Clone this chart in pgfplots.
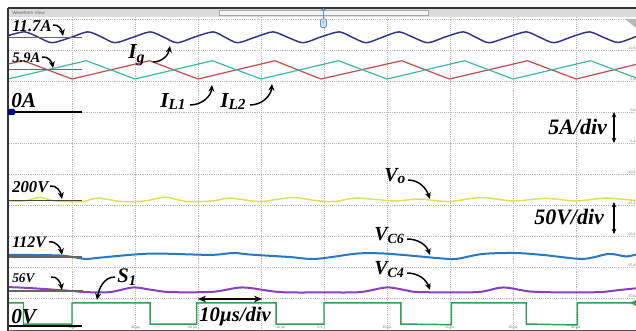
\documentclass[border=0pt]{standalone}
\usepackage{pgfplots}
\pgfplotsset{compat=1.18}
\usepackage{fontspec}
\setmainfont{Liberation Serif}
\newfontfamily\sansf{Liberation Sans}
\usetikzlibrary{arrows.meta}
\definecolor{cIg}{RGB}{50,50,140}
\definecolor{cIL1}{RGB}{195,75,75}
\definecolor{cIL2}{RGB}{60,185,160}
\definecolor{cVo}{RGB}{222,222,90}
\definecolor{cVC6}{RGB}{40,120,195}
\definecolor{cVC4}{RGB}{135,65,190}
\definecolor{cS}{RGB}{45,160,85}
\definecolor{trig}{RGB}{90,150,210}
\newcommand{\ann}[1]{\fontsize{#1}{#1}\selectfont\bfseries\itshape}
\begin{document}
\begin{tikzpicture}
\begin{axis}[at={(6.75pt,-12.75pt)}, anchor=north west, scale only axis,
  width=470.25pt, height=234pt,
  xmin=-50, xmax=49.52, ymin=-7, ymax=3.06,
  axis line style={draw=none},
  xtick={-40,-30,...,40}, ytick={-6,-5,...,3},
  xticklabels={}, yticklabels={}, major tick length=0pt,
  grid=major, grid style={densely dotted, gray!55, line width=0.4pt},
  clip=true]
% Ig
\addplot[cIg, line width=1.1pt, smooth, tension=0.45] coordinates {
(-50,2.47) (-47.5,2.58) (-45.35,2.41) (-43.2,2.23) (-40.35,2.39) (-37.5,2.58) (-35.35,2.42) (-33.2,2.23)
(-30.4,2.40) (-27.6,2.58) (-25.45,2.41) (-23.3,2.23) (-20.45,2.42) (-17.6,2.58) (-15.65,2.40) (-13.7,2.23)
(-10.9,2.41) (-8.1,2.58) (-5.7,2.40) (-3.3,2.23) (-0.45,2.42) (2.4,2.58) (4.55,2.40) (6.7,2.23)
(9.3,2.41) (11.9,2.58) (14.2,2.40) (16.5,2.23) (19.3,2.42) (22.1,2.58) (24.15,2.40) (26.2,2.23)
(29.15,2.41) (32.1,2.58) (34.3,2.40) (36.5,2.23) (39.3,2.42) (42.1,2.58) (44.4,2.40) (46.7,2.24) (49.5,2.43)};
% IL1
\addplot[cIL1, line width=0.9pt] coordinates {
(-50,1.55) (-47.7,1.65) (-40,1.06) (-27.7,1.65) (-20,1.06) (-7.8,1.65) (-0.5,1.06)
(12.3,1.65) (19.9,1.06) (32.3,1.65) (40,1.06) (49.5,1.53)};
% IL2
\addplot[cIL2, line width=0.9pt] coordinates {
(-50,1.07) (-37.7,1.65) (-30,1.06) (-17.7,1.65) (-10,1.06) (2.3,1.65) (10,1.06)
(22.3,1.65) (30,1.06) (42.3,1.65) (49.5,1.10)};
% Vo
\addplot[cVo, line width=1.1pt, smooth, tension=0.5] coordinates {
(-50,-2.87) (-47.5,-2.87) (-45.1,-2.76) (-42.7,-2.87) (-38.3,-2.89) (-36.0,-2.78) (-32.1,-2.89)
(-28.4,-2.87) (-25.2,-2.75) (-21.7,-2.89) (-17.6,-2.87) (-14.9,-2.78) (-10.2,-2.89) (-5.1,-2.76)
(-1.3,-2.86) (1.7,-2.89) (5.1,-2.78) (11.1,-2.87) (15.1,-2.81) (19.8,-2.89) (24.9,-2.76)
(30.0,-2.87) (35.2,-2.79) (40.0,-2.87) (44.8,-2.78) (49.5,-2.86)};
% VC6
\addplot[cVC6, line width=1.5pt, smooth, tension=0.5] coordinates {
(-50,-4.61) (-41.9,-4.63) (-37.9,-4.74) (-35.6,-4.70) (-27.6,-4.57) (-18.1,-4.61) (-14.4,-4.55)
(-11.7,-4.60) (-5.4,-4.68) (-1.3,-4.74) (5.1,-4.57) (8.9,-4.56) (13.0,-4.62) (18.4,-4.72)
(21.0,-4.74) (25.2,-4.58) (30.5,-4.55) (35.1,-4.62) (41.1,-4.74) (45.2,-4.58) (47.9,-4.66) (49.5,-4.60)};
% VC4
\addplot[cVC4, line width=1.5pt, smooth, tension=0.5] coordinates {
(-50,-5.65) (-46.7,-5.68) (-40.3,-5.77) (-37.9,-5.81) (-34,-5.81) (-30.3,-5.66) (-27.6,-5.73)
(-24.4,-5.81) (-17.6,-5.80) (-12.9,-5.66) (-7.0,-5.81) (0,-5.82) (5.7,-5.81) (10,-5.66) (13.2,-5.76)
(15.2,-5.81) (24.3,-5.81) (28.4,-5.66) (32.7,-5.79) (38,-5.82) (43.8,-5.81) (47,-5.74) (49.5,-5.69)};
% S1
\addplot[cS, line width=1.1pt] coordinates {
(-50,-6.16) (-47.7,-6.16) (-47.7,-6.84) (-40,-6.84) (-40,-6.16) (-27.6,-6.16) (-27.6,-6.84)
(-20.2,-6.84) (-20.2,-6.16) (-7.6,-6.16) (-7.6,-6.84) (0,-6.84) (0,-6.16) (12.2,-6.16)
(12.2,-6.84) (20.2,-6.86) (20.2,-6.16) (32.1,-6.16) (32.1,-6.84) (40.2,-6.87) (40.2,-6.16) (49.5,-6.16)};
\end{axis}
\begin{scope}[x=0.75pt,y=-0.75pt]
% header and frame
\fill[gray!28] (8,8) rectangle (636,17);
\fill[white!92!gray] (219,10) rectangle (428,15);
\draw[gray!70, line width=0.4pt] (219,10) rectangle (428,15);
\node[anchor=west, inner sep=0, font=\sansf\fontsize{3.5}{3.5}\selectfont, text=black!60] at (12,12.5) {Waveform View};
\draw[black!80, line width=1.2pt] (7.5,8) -- (636,8);
\draw[black!80, line width=1.1pt] (8,8) -- (8,331);
\fill[black!65] (8,329.6) rectangle (636,331);
% trigger marker
\draw[trig, line width=0.8pt] (323.5,8) -- (323.5,19);
\fill[trig] (321,9) -- (326,9) -- (323.5,12) -- cycle;
\draw[trig, fill=trig!25, line width=0.6pt, rounded corners=1pt] (320.5,19) rectangle (326.5,27.5);
\node[inner sep=0, font=\sansf\fontsize{4}{4}\selectfont, text=trig] at (323.5,23.3) {T};
\fill[gray!55] (625,19) -- (636,19) -- (636,28) -- cycle;
% right tiny labels
\foreach \v/\yy in {10 A/48,5 A/79,0 A/110,-5 A/141,-10 A/172,-15 A/203,-20 A/234,-25 A/265,-30 A/296}
  \node[anchor=east, inner sep=0, font=\sansf\fontsize{2.6}{2.6}\selectfont, text=black!55] at (636,\yy) {\v};
\foreach \lab/\xx in {-40 µs/72,-30 µs/135,-20 µs/192,-10 µs/280,0 s/320,10 µs/387,20 µs/450,30 µs/513,40 µs/576}
  \node[inner sep=0, font=\sansf\fontsize{2.6}{2.6}\selectfont, text=black!55] at (\xx,327.5) {\lab};
% level markers
\draw[gray!80!black, line width=0.7pt] (9,37) -- (82,37);
\draw[gray!80!black, line width=0.7pt] (9,69) -- (82,69);
\draw[black, line width=2pt] (9,112) -- (82,112);
\fill[blue!60!black, rounded corners=0.8pt] (8,109) rectangle (15,115);
\draw[black!60!olive, line width=0.9pt] (9,200.5) -- (82,200.5);
\draw[gray!80!black, line width=0.8pt] (9,257) -- (82,257);
\draw[gray!80!black, line width=0.8pt] (9,291) -- (83,291);
\draw[black, line width=2pt] (9,326) -- (82,326);
% labels
\node[anchor=base west, inner sep=0, font=\ann{12.5}] at (12,32) {11.7A};
\node[anchor=base west, inner sep=0, font=\ann{11}] at (12,63) {5.9A};
\node[anchor=base west, inner sep=0, font=\ann{16}] at (11,108) {0A};
\node[anchor=base west, inner sep=0, font=\ann{12.5}] at (12,193) {200V};
\node[anchor=base west, inner sep=0, font=\ann{12}] at (12,248) {112V};
\node[anchor=base west, inner sep=0, font=\ann{10}] at (12,283) {56V};
\node[anchor=base west, inner sep=0, font=\ann{16}] at (11,324) {0V};
\node[anchor=base west, inner sep=0, font=\ann{16}] at (128,59) {I{\ann{12}\raisebox{-2.5pt}{g}}};
\node[anchor=base west, inner sep=0, font=\ann{16}] at (160,108) {I{\ann{11.5}\raisebox{-1.5pt}{L1}}};
\node[anchor=base west, inner sep=0, font=\ann{16}] at (220,108) {I{\ann{11.5}\raisebox{-1.5pt}{L2}}};
\node[anchor=base west, inner sep=0, font=\ann{16.5}] at (548,135) {5A/div};
\node[anchor=base west, inner sep=0, font=\ann{16.5}] at (534,225) {50V/div};
\node[anchor=base west, inner sep=0, font=\ann{15.5}] at (199,321.5) {10µs/div};
\node[anchor=base west, inner sep=0, font=\ann{15}] at (384,182) {V{\ann{11.5}\raisebox{-1.5pt}{o}}};
\node[anchor=base west, inner sep=0, font=\ann{15}] at (374,241) {V{\ann{10.5}\raisebox{-2pt}{C6}}};
\node[anchor=base west, inner sep=0, font=\ann{15}] at (374,275) {V{\ann{10.5}\raisebox{-2pt}{C4}}};
\node[anchor=base west, inner sep=0, font=\ann{15.5}] at (117,283) {S{\ann{11}\raisebox{-2pt}{1}}};
% curved arrows
\tikzset{cur/.style={line width=1.1pt, -{Stealth[length=5pt,width=4.5pt]}}}
\draw[cur] (53,25) to[out=10,in=100] (63,36);
\draw[cur] (42,57) to[out=10,in=100] (53,68);
\draw[cur] (50,186) to[out=10,in=100] (62,199);
\draw[cur] (49,242) to[out=10,in=100] (62,255);
\draw[cur] (51,277) to[out=10,in=100] (62,290);
\draw[cur] (153,62) to[out=0,in=-100] (170,46);
\draw[cur] (190,105) to[out=0,in=-95] (212,85);
\draw[cur] (250,105) to[out=0,in=-95] (272,84);
\draw[cur] (408,180) to[out=0,in=110] (430,199);
\draw[cur] (407,239) to[out=0,in=110] (430,255);
\draw[cur] (407,273) to[out=0,in=110] (430,290);
\draw[cur] (115,277) to[out=180,in=80] (97,300);
% scale arrows
\draw[line width=0.8pt, {Stealth[length=4pt,width=3.5pt]}-{Stealth[length=4pt,width=3.5pt]}] (614,112) -- (614,143);
\draw[line width=0.8pt, {Stealth[length=4pt,width=3.5pt]}-{Stealth[length=4pt,width=3.5pt]}] (614,202) -- (614,234);
\draw[line width=1.6pt, {Stealth[length=6pt,width=5pt]}-{Stealth[length=6pt,width=5pt]}] (198,299) -- (262,299);
% channel marker S1
\fill[cS] (636,300) -- (630,303) -- (636,306) -- cycle;
\end{scope}
\pgfresetboundingbox
\path[x=0.75pt,y=-0.75pt] (0,0) rectangle (636,331);
\end{tikzpicture}
\end{document}
